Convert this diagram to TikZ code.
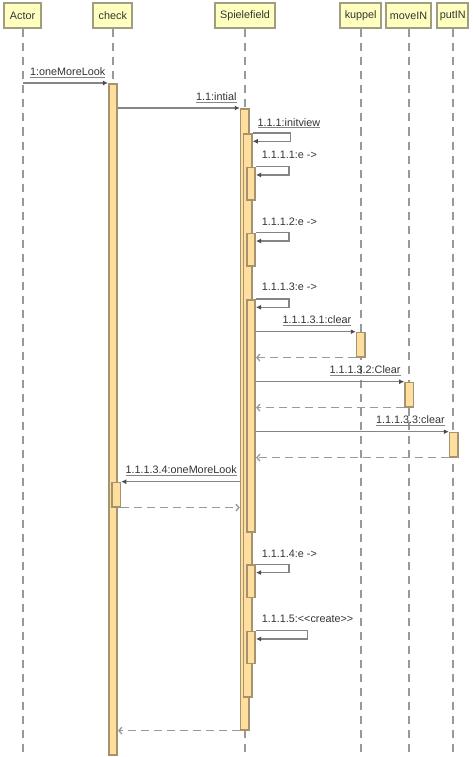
\documentclass[tikz,border=0pt]{standalone}
\usepackage{fontspec}
\setmainfont{Liberation Sans}
\usetikzlibrary{arrows.meta}

\definecolor{headfill}{HTML}{FFFFC0}
\definecolor{headline}{HTML}{A09E80}
\definecolor{actfill}{HTML}{FFDE9E}
\definecolor{actline}{HTML}{A3936F}
\definecolor{msgline}{HTML}{858585}
\definecolor{retline}{HTML}{9A9A9A}
\definecolor{lifeline}{HTML}{999999}
\definecolor{txt}{HTML}{333333}

\tikzset{
  head/.style={draw=headline, fill=headfill, line width=2pt, minimum height=25pt,
    inner sep=0pt, text=txt, font=\fontsize{10.8}{12}\selectfont},
  life/.style={draw=lifeline, line width=2pt, dash pattern=on 8pt off 6pt},
  act/.style={draw=actline, fill=actfill, line width=1.6pt, minimum width=8.5pt,
    inner sep=0pt, anchor=north},
  msg/.style={draw=msgline, line width=1.2pt,
    -{Latex[length=5pt,width=5pt,fill=black!70,color=black!70]}},
  ret/.style={draw=retline, line width=1.3pt, dash pattern=on 8pt off 5pt,
    -{Straight Barb[length=3pt,width=7pt]}},
  lab/.style={text=txt, inner xsep=0pt, inner ysep=0pt, text height=8pt,
    text depth=1.8pt, anchor=base west, font=\fontsize{10.8}{12}\selectfont},
  uline/.style={draw=msgline, line width=1pt}
}

\begin{document}
\begin{tikzpicture}[x=1pt,y=-1pt]
\useasboundingbox (0,0) rectangle (473,757);

% participants
\node[head, minimum width=37pt] (actor) at (22.5,16) {Actor};
\node[head, minimum width=39pt] (check) at (112.8,16) {check};
\node[head, minimum width=60pt] (spiel) at (245,16) {Spielefield};
\node[head, minimum width=41pt] (kuppel) at (360.7,16) {kuppel};
\node[head, minimum width=45pt] (movein) at (408.5,16) {moveIN};
\node[head, minimum width=31pt] (putin) at (452.8,16) {putIN};

% lifelines
\foreach \p in {actor,check,spiel,kuppel,movein,putin}{
  \coordinate (\p-end) at (\p.south |- 0,757);
  \draw[life] (\p.south) -- (\p-end);
}

% activation bars
\node[act, minimum height=671pt] (chk1) at (113,83) {};
\node[act, minimum height=24.3pt] (chk2) at (116.2,481.7) {};
\node[act, minimum height=621pt] (sp1) at (244.8,108) {};
\node[act, minimum height=563pt] (sp2) at (247.7,133) {};
\node[act, minimum height=32.3pt] (sp3a) at (251,166.7) {};
\node[act, minimum height=32.3pt] (sp3b) at (251,232.7) {};
\node[act, minimum height=232pt] (sp3c) at (251,299) {};
\node[act, minimum height=32.4pt] (sp3d) at (251,564.3) {};
\node[act, minimum height=32pt] (sp3e) at (251,630.7) {};
\node[act, minimum height=24.3pt] (kup) at (360.8,331.7) {};
\node[act, minimum height=24.3pt] (mov) at (409.2,381.7) {};
\node[act, minimum height=24.3pt] (put) at (453.8,431.7) {};

% 1: oneMoreLook
\draw[msg] (actor.south |- chk1.north) -- (chk1.north west);
\node[lab] (l1) at (30,76) {1:oneMoreLook};
\draw[uline] (l1.south west) -- (l1.south east);

% 1.1: intial
\draw[msg] (chk1.east |- sp1.north) -- (sp1.north west);
\node[lab] (l11) at (196,101) {1.1:intial};
\draw[uline] (l11.south west) -- (l11.south east);

% 1.1.1: initview (self call)
\draw[msg] (sp2.north east) -- ++(38,0) |- ([yshift=-8.3pt]sp2.north east);
\node[lab] (l111) at (257.5,126) {1.1.1:initview};
\draw[uline] (l111.south west) -- (l111.south east);

% 1.1.1.1 .. 1.1.1.3 (self calls)
\draw[msg] (sp3a.north east) -- ++(33,0) |- ([yshift=-8.3pt]sp3a.north east);
\node[lab] (l1111) at (261.7,158.7) {1.1.1.1:e ->};
\draw[msg] (sp3b.north east) -- ++(33,0) |- ([yshift=-8.3pt]sp3b.north east);
\node[lab] (l1112) at (261.7,225.2) {1.1.1.2:e ->};
\draw[msg] (sp3c.north east) -- ++(33,0) |- ([yshift=-8.3pt]sp3c.north east);
\node[lab] (l1113) at (261.7,290.5) {1.1.1.3:e ->};

% 1.1.1.3.1: clear
\draw[msg] (sp3c.east |- kup.north) -- (kup.north west);
\draw[ret] (kup.south west) -- (sp3c.east |- kup.south);
\node[lab] (l11131) at (282.5,323.7) {1.1.1.3.1:clear};
\draw[uline] (l11131.south west) -- (l11131.south east);

% 1.1.1.3.2: Clear
\draw[msg] (sp3c.east |- mov.north) -- (mov.north west);
\draw[ret] (mov.south west) -- (sp3c.east |- mov.south);
\node[lab] (l11132) at (329.5,373.7) {1.1.1.3.2:Clear};
\draw[uline] (l11132.south west) -- (l11132.south east);

% 1.1.1.3.3: clear
\draw[msg] (sp3c.east |- put.north) -- (put.north west);
\draw[ret] (put.south west) -- (sp3c.east |- put.south);
\node[lab] (l11133) at (376,423.7) {1.1.1.3.3:clear};
\draw[uline] (l11133.south west) -- (l11133.south east);

% 1.1.1.3.4: oneMoreLook
\draw[msg] (sp1.west |- chk2.north) -- (chk2.north east);
\draw[ret] (chk2.south east) -- (sp1.west |- chk2.south);
\node[lab] (l11134) at (125.5,473.7) {1.1.1.3.4:oneMoreLook};
\draw[uline] (l11134.south west) -- (l11134.south east);

% 1.1.1.4 and 1.1.1.5 (self calls)
\draw[msg] (sp3d.north east) -- ++(33,0) |- ([yshift=-8.3pt]sp3d.north east);
\node[lab] (l1114) at (261.7,557) {1.1.1.4:e ->};
\draw[msg] (sp3e.north east) -- ++(51.5,0) |- ([yshift=-8.3pt]sp3e.north east);
\node[lab] (l1115) at (261.7,622.7) {1.1.1.5:<\kern0pt<create>\kern0pt>};

% final return to check
\draw[ret] (sp1.south west) -- (chk1.east |- sp1.south);
\end{tikzpicture}
\end{document}
